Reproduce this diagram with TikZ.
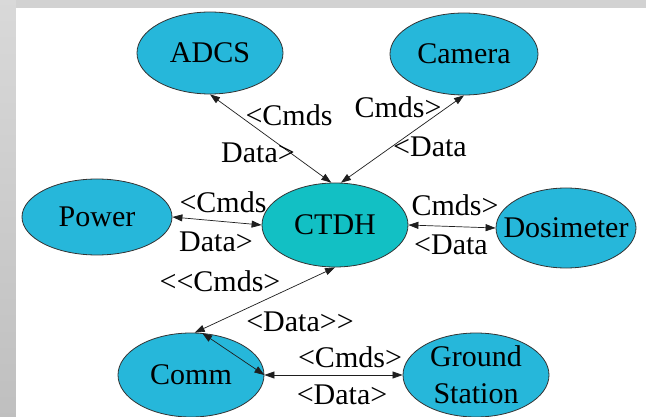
\documentclass[tikz,border=0pt]{standalone}
\usepackage{fontspec}
\setmainfont{Liberation Serif}
\usetikzlibrary{shapes.geometric,arrows.meta}
\definecolor{nodecol}{RGB}{38,183,218}
\definecolor{ctdhcol}{RGB}{18,192,196}
\definecolor{edgecol}{RGB}{30,30,30}
\begin{document}
\begin{tikzpicture}[x=1pt,y=-1pt,
  big/.style={font=\fontsize{30}{37}\selectfont},
  unit/.style={ellipse,draw=black!80,line width=0.8pt,fill=nodecol,inner sep=0pt,
    minimum width=146pt,minimum height=82pt,
    label={[big,align=center,inner sep=0pt]center:#1}},
  lbl/.style={big,inner sep=0pt},
  link/.style={draw=edgecol,line width=0.7pt,
    {Triangle[length=10pt,width=7pt]}-{Triangle[length=10pt,width=7pt]}}]
\useasboundingbox (0,0) rectangle (646,417);
\fill[gray!35] (0,0) rectangle (646,8);
\shade[top color=gray!30,bottom color=gray!50] (0,0) rectangle (16,417);
\fill[white] (16,8) rectangle (646,417);
% nodes
\node[unit=ADCS] (adcs) at (210,53) {};
\node[unit=Camera,minimum width=148pt] (camera) at (464,54) {};
\node[unit=Power,minimum width=150pt,minimum height=76pt] (power) at (97,217) {};
\node[unit=CTDH,fill=ctdhcol,minimum height=84pt] (ctdh) at (335,225) {};
\node[unit=Dosimeter,minimum width=140pt,minimum height=80pt] (dos) at (566,228) {};
\node[unit=Comm,minimum height=84pt] (comm) at (191,375) {};
\node[unit={Ground\\Station},minimum width=146pt,minimum height=84pt] (ground) at (476,375) {};
% edges
\draw[link] (adcs.south) -- (ctdh.95);
\draw[link] (camera.south) -- (ctdh.82);
\draw[link] (power.east) -- (ctdh.west);
\draw[link] (ctdh.east) -- (dos.west);
\draw[link] (ctdh.south) -- (comm.85);
\draw[link] (comm.75) -- (comm.east);
\draw[link] (comm.east) -- (ground.west);
% labels
\node[lbl] (l1) at (289,115) {<Cmds};
\node[lbl] (l2) at (258,153) {Data>};
\node[lbl] (l3) at (398,107) {Cmds>};
\node[lbl] (l4) at (430,147) {<Data};
\node[lbl] (l5) at (223,202) {<Cmds};
\node[lbl] (l6) at (216,242) {Data>};
\node[lbl] (l7) at (455,205) {Cmds>};
\node[lbl] (l8) at (451,245) {<Data};
\node[lbl] (l9) at (220,281) {<{}<Cmds>};
\node[lbl] (l10) at (300,322) {<Data>{}>};
\node[lbl] (l11) at (350,357) {<Cmds>};
\node[lbl] (l12) at (342,395) {<Data>};
\end{tikzpicture}
\end{document}
